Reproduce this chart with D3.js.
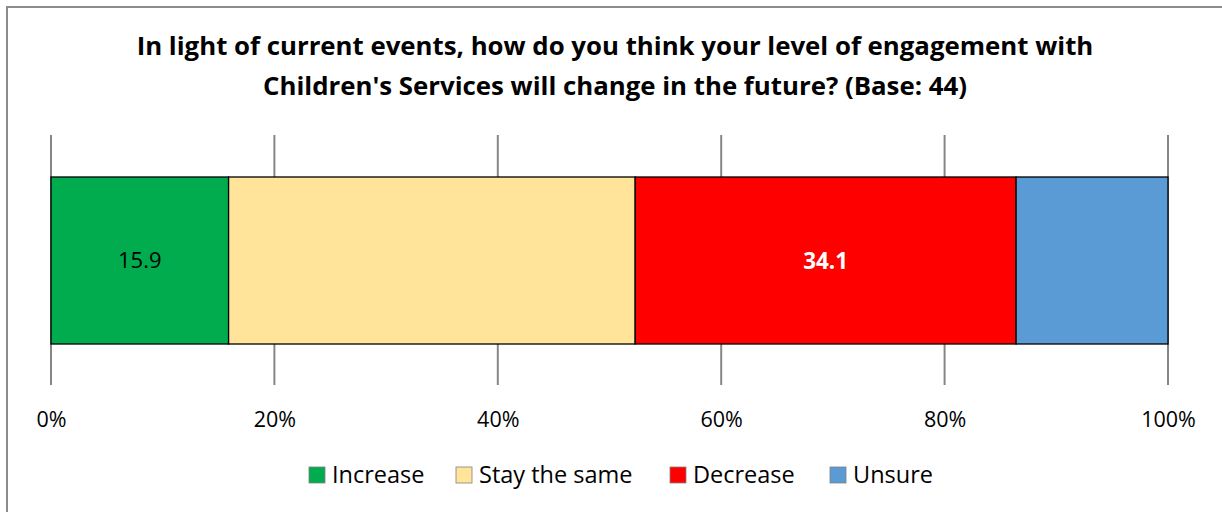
<!DOCTYPE html>
<html>
<head>
<meta charset="utf-8">
<script src="https://cdn.jsdelivr.net/npm/d3@7"></script>
<style>
  html, body { margin: 0; padding: 0; background: #fff; }
  svg { display: block; font-family: "Open Sans", "Noto Sans", sans-serif; }
</style>
</head>
<body>
<svg id="chart" width="1222" height="512"></svg>
<script>
// Survey responses (percent of 44 respondents)
const categories = ["Increase", "Stay the same", "Decrease", "Unsure"];
const values = [15.9, 36.4, 34.1, 13.6];
const colors = ["#00AC4E", "#FFE499", "#FF0000", "#5B9BD5"];
// Only some segments carry a printed label
const showLabel = [true, false, true, false];
const labelStyle = [
  { fill: "#000", weight: "normal", size: 22 },
  null,
  { fill: "#fff", weight: "bold", size: 22.5 },
  null
];
const tickValues = [0, 20, 40, 60, 80, 100];
const titleLines = [
  "In light of current events, how do you think your level of engagement with",
  "Children's Services will change in the future? (Base: 44)"
];

const svg = d3.select("#chart");
const W = 1222, H = 512;

// Outer chart frame
svg.append("rect")
  .attr("x", 7).attr("y", 7)
  .attr("width", W + 20).attr("height", H + 20)
  .attr("fill", "#fff")
  .attr("stroke", "#8c8c8c").attr("stroke-width", 2);

// Title
const title = svg.append("text")
  .attr("text-anchor", "middle")
  .attr("font-weight", "bold")
  .attr("font-size", 25.8)
  .attr("fill", "#000");
titleLines.forEach((line, i) => {
  title.append("tspan")
    .attr("x", 615)
    .attr("y", 55 + i * 40)
    .text(line);
});

const x = d3.scaleLinear().domain([0, 100]).range([51, 1168]);
const y = d3.scaleBand().domain(["all"]).range([177, 344]).padding(0);

// Vertical gridlines
svg.append("g")
  .selectAll("line")
  .data(tickValues)
  .join("line")
  .attr("x1", d => x(d)).attr("x2", d => x(d))
  .attr("y1", 135).attr("y2", 385)
  .attr("stroke", "#868686")
  .attr("stroke-width", 2);

// Stacked segments
const stacked = [];
let acc = 0;
values.forEach((v, i) => {
  stacked.push({ cat: categories[i], v, x0: acc, x1: acc + v, i });
  acc += v;
});

const barTop = y("all");
const barH = y.bandwidth();

svg.append("g")
  .selectAll("rect")
  .data(stacked)
  .join("rect")
  .attr("x", d => x(d.x0))
  .attr("y", barTop)
  .attr("width", d => x(d.x1) - x(d.x0))
  .attr("height", barH)
  .attr("fill", d => colors[d.i])
  .attr("stroke", "#000")
  .attr("stroke-width", 1.3);

// Value labels
svg.append("g")
  .selectAll("text")
  .data(stacked.filter(d => showLabel[d.i]))
  .join("text")
  .attr("x", d => (x(d.x0) + x(d.x1)) / 2)
  .attr("y", barTop + barH / 2)
  .attr("dy", "0.36em")
  .attr("text-anchor", "middle")
  .attr("font-size", d => labelStyle[d.i].size)
  .attr("fill", d => labelStyle[d.i].fill)
  .attr("font-weight", d => labelStyle[d.i].weight)
  .text(d => d.v.toFixed(1));

// X axis tick labels
const axis = d3.axisBottom(x)
  .tickValues(tickValues)
  .tickFormat(d => d + "%")
  .tickSize(0)
  .tickPadding(0);
const ax = svg.append("g")
  .attr("transform", "translate(0,427)")
  .call(axis);
ax.select(".domain").remove();
ax.selectAll("text")
  .attr("font-size", 21.5)
  .attr("font-family", "'Open Sans', 'Noto Sans', sans-serif")
  .attr("fill", "#000")
  .attr("dy", 0)
  .attr("y", 0);

// Legend
const legendX = [309, 456, 670, 830];
const legend = svg.append("g");
categories.forEach((c, i) => {
  const g = legend.append("g").attr("transform", `translate(${legendX[i]},467)`);
  g.append("rect")
    .attr("width", 16).attr("height", 16)
    .attr("fill", colors[i])
    .attr("stroke", "#7f7f7f").attr("stroke-width", 0.8);
  g.append("text")
    .attr("x", 23).attr("y", 15.5)
    .attr("font-size", 23.5)
    .attr("fill", "#000")
    .text(c);
});
</script>
</body>
</html>
